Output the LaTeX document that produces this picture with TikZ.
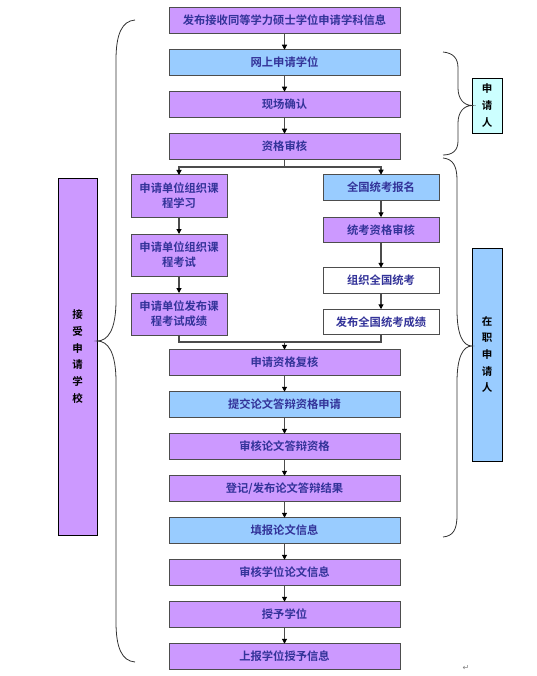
\documentclass[tikz,border=0pt]{standalone}
\usepackage{fontspec}
\setmainfont{Noto Sans CJK SC}[BoldFont={Noto Sans CJK SC Bold}]
\newfontfamily\symfont{DejaVu Sans}
\usepackage{tikz}
\usetikzlibrary{positioning}
\usetikzlibrary{arrows.meta}
\tikzset{>={Triangle[width=5pt,length=5pt,color=black]}}
\definecolor{boxpurple}{HTML}{CC99FF}
\definecolor{boxblue}{HTML}{99CCFF}
\definecolor{boxcyan}{HTML}{CCFFFF}
\definecolor{boxtext}{HTML}{333399}
\definecolor{boxline}{HTML}{4D4D4D}

\begin{document}
\begin{tikzpicture}[x=1pt, y=-1pt, node distance=16.5pt, stepbox/.style={rectangle, draw=boxline, line width=1pt, outer sep=0pt, fill=boxpurple, minimum width=231pt, minimum height=25.5pt, inner sep=0pt, text=boxtext, font=\fontsize{11.3}{15}\selectfont\bfseries, align=center}, netbox/.style={stepbox, fill=boxblue}, leftbox/.style={stepbox, minimum width=96pt, minimum height=42pt}, rightbox/.style={stepbox, minimum width=116pt}, sidebox/.style={rectangle, draw=black, line width=0.8pt, outer sep=0pt, minimum width=30pt, inner sep=0pt, font=\fontsize{10.5}{16.7}\selectfont\bfseries, align=center}, flow/.style={draw=black!70, line width=1.1pt}, brace/.style={draw=black!80, line width=0.8pt}]
    \useasboundingbox (0,0) rectangle (536,676);

    %Nodes
    \node[stepbox](publish) at (284.5,20.5){发布接收同等学力硕士学位申请学科信息};
    \node[netbox](apply)[below=of publish]{网上申请学位};
    \node[stepbox](confirm)[below=of apply]{现场确认};
    \node[stepbox](check)[below=of confirm]{资格审核};
    \node[leftbox](course) at (179,196){申请单位组织课\\程学习};
    \node[leftbox](courseexam)[below=17pt of course]{申请单位组织课\\程考试};
    \node[leftbox](courseresult)[below=17pt of courseexam]{申请单位发布课\\程考试成绩};
    \node[rightbox, fill=boxblue](register) at (381,187.5){全国统考报名};
    \node[rightbox](examcheck)[below=17pt of register]{统考资格审核};
    \node[rightbox, fill=white](exam)[below=25pt of examcheck]{组织全国统考};
    \node[rightbox, fill=white](examresult)[below=16pt of exam]{发布全国统考成绩};
    \node[stepbox](recheck) at (284.5,362.5){申请资格复核};
    \node[netbox](submit)[below=of recheck]{提交论文答辩资格申请};
    \node[stepbox](defcheck)[below=of submit]{审核论文答辩资格};
    \node[stepbox](defresult)[below=of defcheck]{登记/发布论文答辩结果};
    \node[netbox](thesis)[below=of defresult]{填报论文信息};
    \node[stepbox](thesischeck)[below=of thesis]{审核学位论文信息};
    \node[stepbox](grant)[below=of thesischeck]{授予学位};
    \node[stepbox](report)[below=of grant]{上报学位授予信息};
    \node[sidebox, fill=boxcyan, minimum height=55pt](applicant) at (487,105.5){申\\请\\人};
    \node[sidebox, fill=boxblue, minimum height=213pt](employed) at (487,354.5){在\\职\\申\\请\\人};
    \node[sidebox, fill=boxpurple, minimum width=39pt, minimum height=357pt](school) at (77.5,356.5){接\\受\\申\\请\\学\\校};
    \node[font=\symfont\fontsize{8}{8}\selectfont, text=black!50](mark) at (466,668){↵};
    \coordinate(split) at (284.5,167);
    \coordinate(merge) at (284.5,342);
    \coordinate(schooltip) at (97,341);
    \coordinate(employedtip) at (472,346);

    %Lines
    \draw[flow,->] (publish.south) -- (apply.north);
    \draw[flow,->] (apply.south) -- (confirm.north);
    \draw[flow,->] (confirm.south) -- (check.north);
    \draw[flow] (check.south) -- (split);
    \draw[flow,->] (split) -| (course.north);
    \draw[flow,->] (split) -| (register.north);
    \draw[flow,->] (course.south) -- (courseexam.north);
    \draw[flow,->] (courseexam.south) -- (courseresult.north);
    \draw[flow,->] (register.south) -- (examcheck.north);
    \draw[flow,->] (examcheck.south) -- (exam.north);
    \draw[flow,->] (exam.south) -- (examresult.north);
    \draw[flow] (courseresult.south) |- (merge) -| (examresult.south);
    \draw[flow,->] (merge) -- (recheck.north);
    \draw[flow,->] (recheck.south) -- (submit.north);
    \draw[flow,->] (submit.south) -- (defcheck.north);
    \draw[flow,->] (defcheck.south) -- (defresult.north);
    \draw[flow,->] (defresult.south) -- (thesis.north);
    \draw[flow,->] (thesis.south) -- (thesischeck.north);
    \draw[flow,->] (thesischeck.south) -- (grant.north);
    \draw[flow,->] (grant.south) -- (report.north);

    %Braces
    \draw[brace] (135,20) .. controls (122,21) and (116,34) .. (116,60) -- (116,300) .. controls (116,330) and (108,341) .. (schooltip) .. controls (108,341) and (116,352) .. (116,382) -- (116,622) .. controls (116,648) and (122,661) .. (135,662);
    \draw[brace] (443,52) .. controls (453,53) and (458,58) .. (458,68) -- (458,88) .. controls (458,99) and (464,105.5) .. (applicant.west) .. controls (464,105.5) and (458,112) .. (458,123) -- (458,141) .. controls (458,150) and (453,155) .. (443,155);
    \draw[brace] (443,158) .. controls (453,159) and (457,166) .. (457,180) -- (457,310) .. controls (457,335) and (463,346) .. (employedtip) .. controls (463,346) and (457,357) .. (457,382) -- (457,515) .. controls (457,530) and (453,536) .. (443,537);

    \end{tikzpicture}
\end{document}
